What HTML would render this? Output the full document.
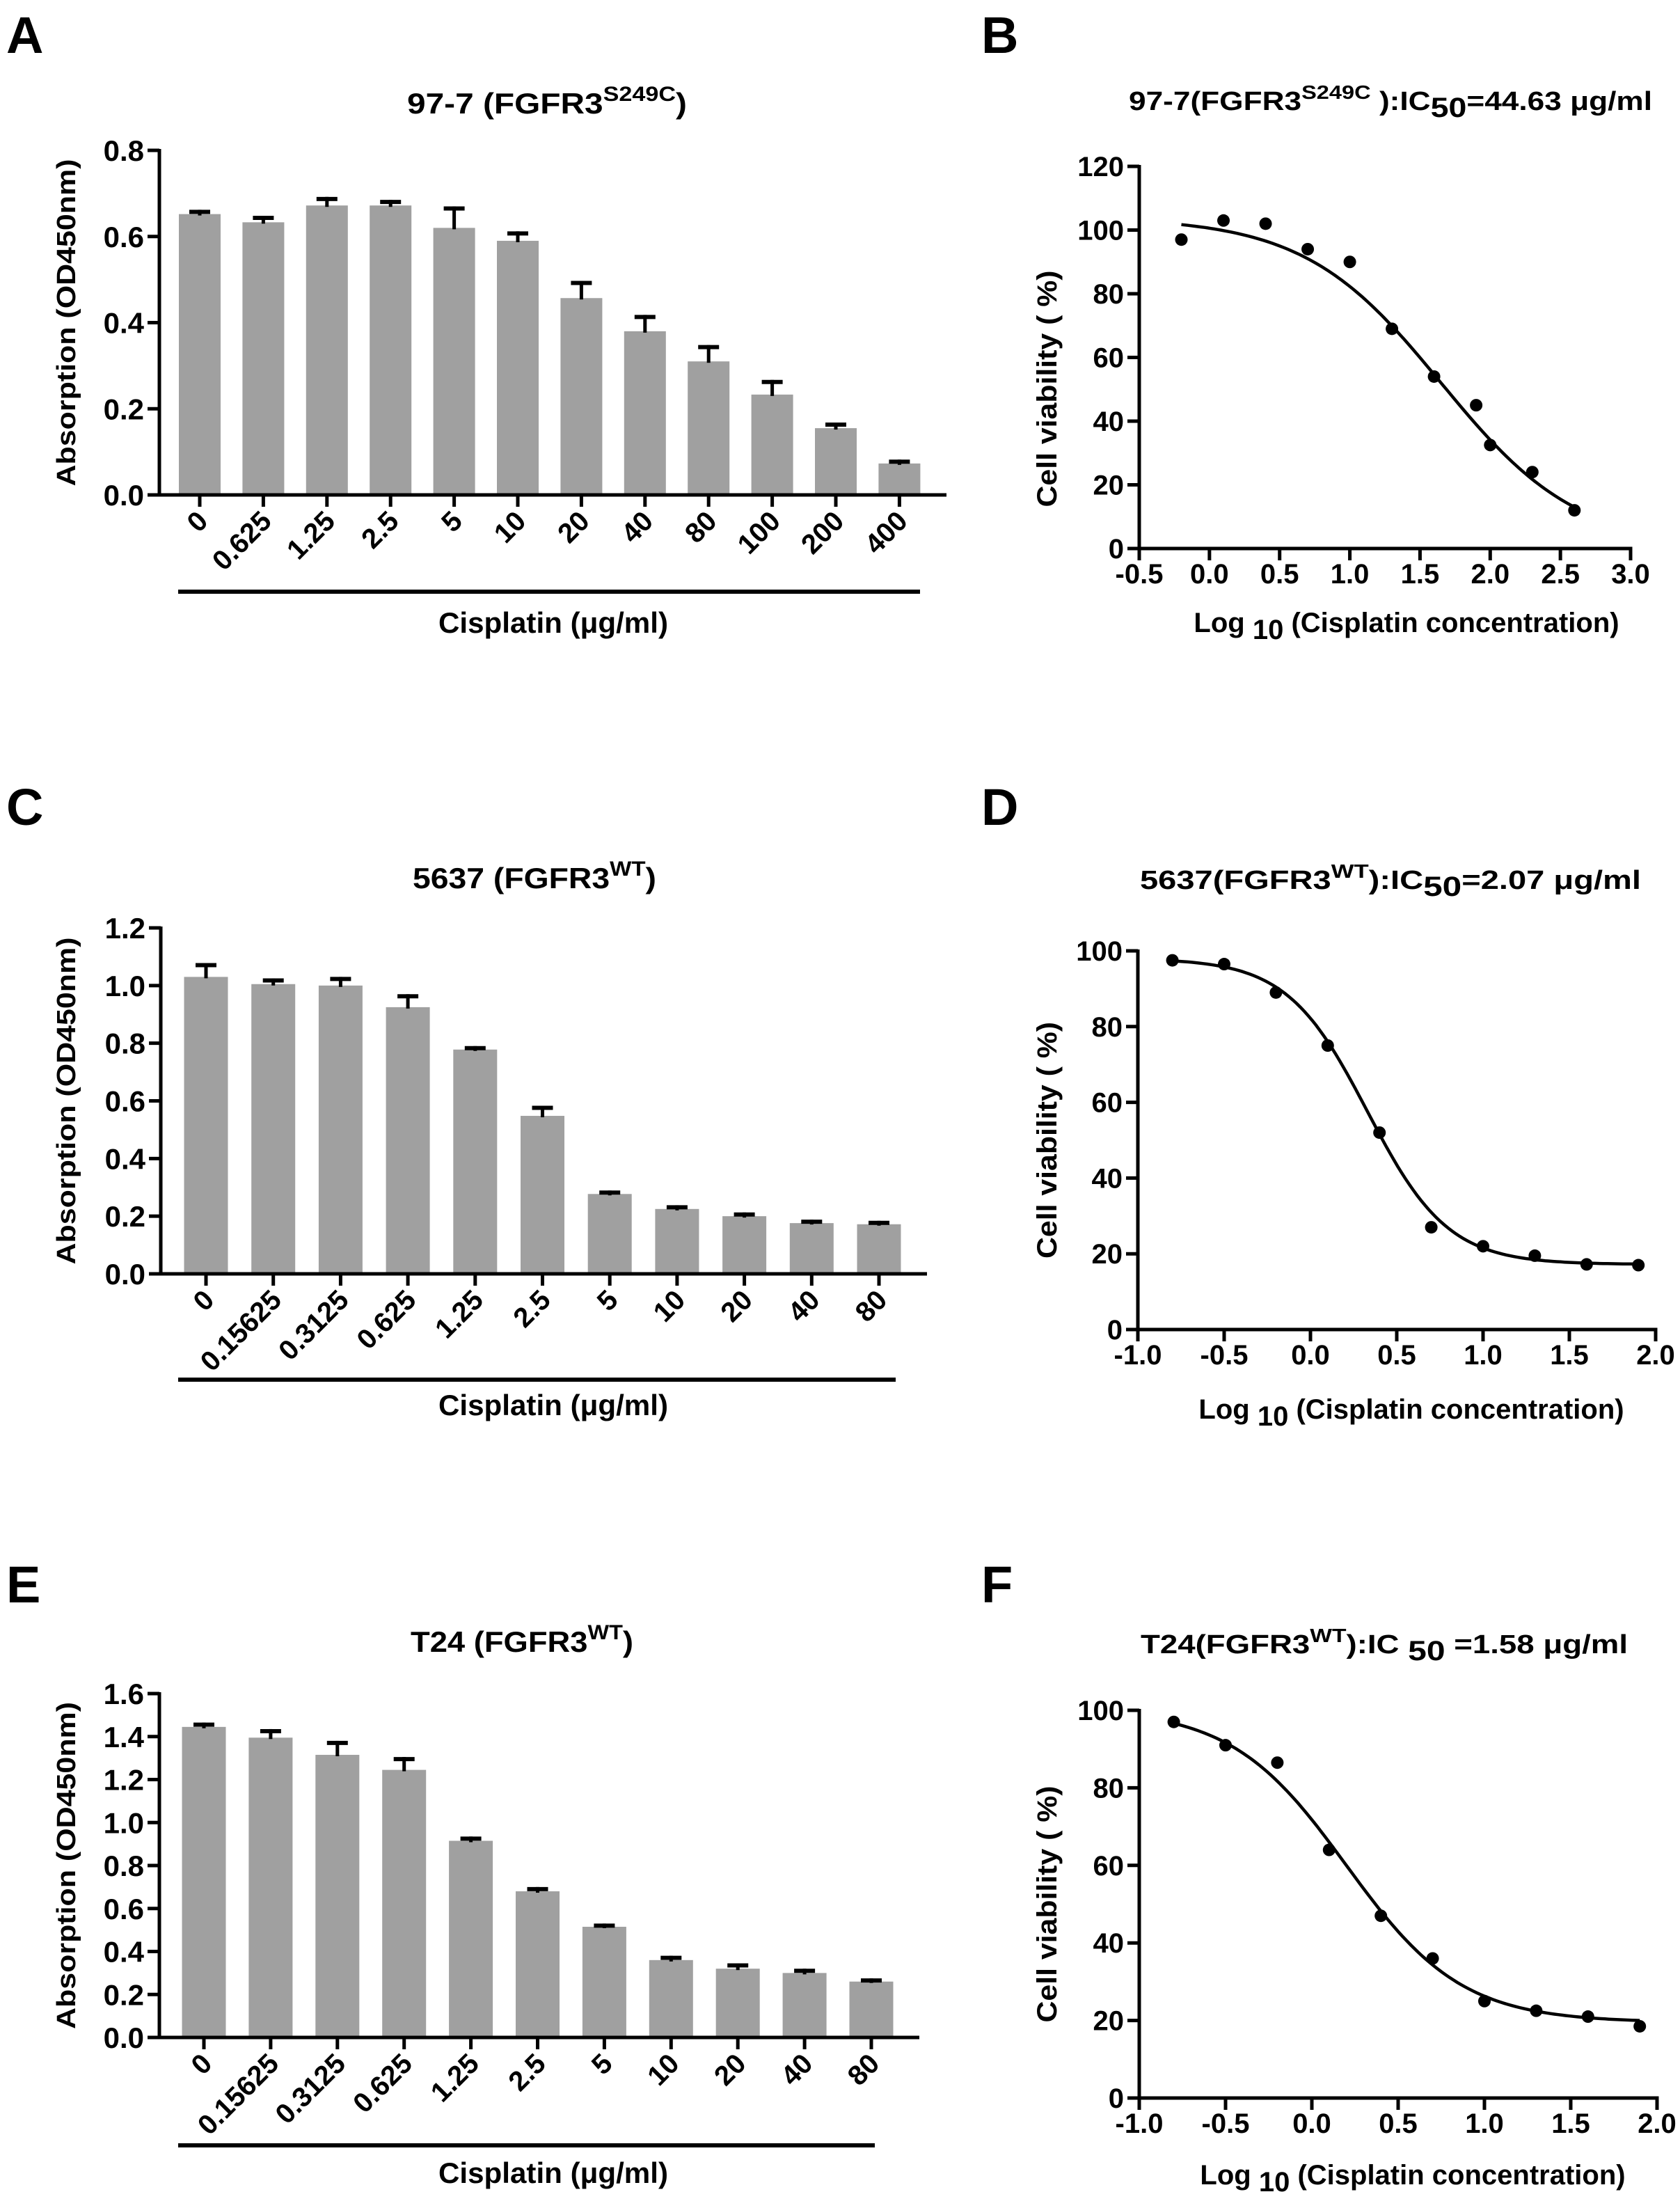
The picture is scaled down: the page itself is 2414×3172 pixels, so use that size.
<!DOCTYPE html>
<html><head><meta charset="utf-8">
<style>
html,body{margin:0;padding:0;background:#fff;}
svg{display:block;}
.n{font-family:"Liberation Sans Narrow","Liberation Sans",sans-serif;font-weight:bold;}
.w{font-family:"Liberation Sans",sans-serif;font-weight:bold;}
</style></head>
<body>
<svg id="fig" xmlns="http://www.w3.org/2000/svg" width="2414" height="3172" viewBox="0 0 2414 3172"></svg>
<script>
// ---------- data ----------
const catsA = ["0","0.625","1.25","2.5","5","10","20","40","80","100","200","400"];
const valsA = [0.652,0.633,0.672,0.672,0.620,0.590,0.457,0.380,0.310,0.233,0.155,0.073];
const errA  = [0.010,0.015,0.020,0.013,0.050,0.022,0.040,0.038,0.038,0.034,0.013,0.009];
const ticksA = ["0.0","0.2","0.4","0.6","0.8"];

const catsC = ["0","0.15625","0.3125","0.625","1.25","2.5","5","10","20","40","80"];
const valsC = [1.030,1.005,1.000,0.925,0.778,0.548,0.277,0.225,0.200,0.176,0.172];
const errC  = [0.048,0.020,0.030,0.045,0.012,0.035,0.012,0.013,0.013,0.012,0.012];
const ticksC = ["0.0","0.2","0.4","0.6","0.8","1.0","1.2"];

const catsE = ["0","0.15625","0.3125","0.625","1.25","2.5","5","10","20","40","80"];
const valsE = [1.445,1.395,1.315,1.245,0.915,0.680,0.515,0.360,0.320,0.300,0.260];
const errE  = [0.020,0.040,0.065,0.060,0.020,0.020,0.015,0.020,0.025,0.020,0.015];
const ticksE = ["0.0","0.2","0.4","0.6","0.8","1.0","1.2","1.4","1.6"];

const logB = [-0.2,0.1,0.4,0.7,1.0,1.3,1.6,1.9,2.0,2.3,2.6];
const viaB = [97,103,102,94,90,69,54,45,32.5,24,12];
const fitB = {top:104, bottom:0, logIC50:1.65, hill:0.89};
const xTicksB = ["-0.5","0.0","0.5","1.0","1.5","2.0","2.5","3.0"];
const yTicksB = ["0","20","40","60","80","100","120"];

const logD = [-0.8,-0.5,-0.2,0.1,0.4,0.7,1.0,1.3,1.6,1.9];
const viaD = [97.5,96.5,89,75,52,27,22,19.5,17.2,17];
const fitD = {top:98, bottom:17.2, logIC50:0.33, hill:1.86};
const xTicksD = ["-1.0","-0.5","0.0","0.5","1.0","1.5","2.0"];
const yTicksD = ["0","20","40","60","80","100"];

const logF = [-0.8,-0.5,-0.2,0.1,0.4,0.7,1.0,1.3,1.6,1.9];
const viaF = [97,91,86.5,64,47,36,25,22.5,21,18.5];
const fitF = {top:100.5, bottom:19.5, logIC50:0.2, hill:1.3};
const xTicksF = ["-1.0","-0.5","0.0","0.5","1.0","1.5","2.0"];
const yTicksF = ["0","20","40","60","80","100"];

// ---------- helpers ----------
const NS = "http://www.w3.org/2000/svg";
const svg = document.getElementById("fig");
function mk(tag, attrs, parent){
  const e = document.createElementNS(NS, tag);
  for (const k in attrs) e.setAttribute(k, attrs[k]);
  (parent||svg).appendChild(e);
  return e;
}
function line(x1,y1,x2,y2,w,p){ return mk("line",{x1,y1,x2,y2,stroke:"#000","stroke-width":w,"stroke-linecap":"butt"},p); }

function letter(ch,x,y){
  const t = mk("text",{x,y,"font-size":74,class:"w",fill:"#000"});
  t.textContent = ch;
  
  
}

function barTitle(g, cx, cy, pre, sup, post, tl){
  const t = mk("text",{x:cx,y:cy+15,"text-anchor":"middle","font-size":42,class:"n",textLength:tl,lengthAdjust:"spacingAndGlyphs"},g);
  
  
  const a = mk("tspan",{},t); a.textContent = pre;
  const b = mk("tspan",{dy:-18,"font-size":30},t); b.textContent = sup;
  const c = mk("tspan",{dy:18},t); c.textContent = post;
}
function curveTitle(g, cx, cy, pre, sup, mid, sub, post, tl){
  const t = mk("text",{x:cx,y:cy+13,"text-anchor":"middle","font-size":38,class:"w",textLength:tl,lengthAdjust:"spacingAndGlyphs"},g);
  
  
  const a = mk("tspan",{},t); a.textContent = pre;
  const b = mk("tspan",{dy:-16,"font-size":28},t); b.textContent = sup;
  const c = mk("tspan",{dy:16},t); c.textContent = mid;
  const d = mk("tspan",{dy:10,"font-size":40},t); d.textContent = sub;
  const e = mk("tspan",{dy:-10},t); e.textContent = post;
}

function barPanel(o, cats, vals, errs, ticks, max, name){
  const g = mk("g",{});
  
  
  const yS = v => o.y0 - (v/max)*(o.y0-o.yTop);
  const xS = i => o.first + i*o.pitch;
  vals.forEach((v,i)=>{
    const r = mk("rect",{x:xS(i)-o.bw/2,y:yS(v),width:o.bw,height:o.y0-yS(v),fill:"#a0a0a0"},g);
    
    
    const top = yS(v+errs[i]);
    const s = line(xS(i),yS(v)+2,xS(i),top,5,g);
    
    
    const c = line(xS(i)-15,top+3,xS(i)+15,top+3,6,g);
    
    
  });
  const ya = line(o.x0,o.yTop-2,o.x0,o.y0+2.5,5,g);
  
  
  const xa = line(o.x0-2.5,o.y0,o.xEnd,o.y0,5,g);
  
  
  ticks.forEach((tl,i)=>{
    const v = parseFloat(tl); const y = yS(v);
    line(o.x0-17,y,o.x0,y,5,g);
    const t = mk("text",{x:o.x0-22,y:y+15,"text-anchor":"end","font-size":42,class:"n"},g);
    t.textContent = tl;
    
    
  });
  cats.forEach((c,i)=>{
    const x = xS(i);
    line(x,o.y0,x,o.y0+17,5,g);
    const t = mk("text",{x:x+14,y:o.y0+40,"text-anchor":"end","font-size":40,class:"n",transform:`rotate(-45 ${x+14} ${o.y0+40})`},g);
    t.textContent = c;
    
    
  });
  const ul = line(o.ul[0],o.ul[2],o.ul[1],o.ul[2],6,g);
  
  
  const xl = mk("text",{x:o.xl[0],y:o.xl[1]+15,"text-anchor":"middle","font-size":42,class:"n",textLength:330,lengthAdjust:"spacingAndGlyphs"},g);
  xl.textContent = "Cisplatin (μg/ml)";
  
  
  const ym = (o.y0+o.yTop)/2;
  const yl = mk("text",{x:o.ylx,y:ym,"text-anchor":"middle","font-size":38,class:"w",textLength:470,lengthAdjust:"spacingAndGlyphs",transform:`rotate(-90 ${o.ylx} ${ym})`},g);
  yl.textContent = "Absorption  (OD450nm)";
  
  
  return g;
}

function curvePanel(o, xs, ys, fit, xt, yt, name){
  const g = mk("g",{});
  
  
  const xmin = parseFloat(xt[0]), xmax = parseFloat(xt[xt.length-1]);
  const ymax = parseFloat(yt[yt.length-1]);
  const xS = v => o.x0 + (v-xmin)/(xmax-xmin)*(o.x1-o.x0);
  const yS = v => o.y0 - v/ymax*(o.y0-o.yTop);
  const ya = line(o.x0,o.yTop-2,o.x0,o.y0+2.5,5,g);
  
  
  const xa = line(o.x0-2.5,o.y0,o.x1+2.5,o.y0,5,g);
  
  
  yt.forEach(tl=>{
    const y = yS(parseFloat(tl));
    line(o.x0-17,y,o.x0,y,5,g);
    const t = mk("text",{x:o.x0-22,y:y+14,"text-anchor":"end","font-size":40,class:"w"},g);
    t.textContent = tl;
    
    
  });
  xt.forEach(tl=>{
    const x = xS(parseFloat(tl));
    line(x,o.y0,x,o.y0+17,5,g);
    const t = mk("text",{x:x,y:o.y0+50,"text-anchor":"middle","font-size":40,class:"w"},g);
    t.textContent = tl;
    
    
  });
  const lo = Math.min(...xs), hi = Math.max(...xs);
  let d = "";
  for (let k=0;k<=120;k++){
    const x = lo + (hi-lo)*k/120;
    const y = fit.bottom + (fit.top-fit.bottom)/(1+Math.pow(10,(x-fit.logIC50)*fit.hill));
    d += (k?"L":"M") + xS(x).toFixed(1) + " " + yS(y).toFixed(1);
  }
  const p = mk("path",{d,fill:"none",stroke:"#000","stroke-width":4.5},g);
  
  
  xs.forEach((x,i)=>{
    const c = mk("circle",{cx:xS(x),cy:yS(ys[i]),r:9,fill:"#000"},g);
    
    
  });
  const xl = mk("text",{x:o.xl[0],y:o.xl[1]+14,"text-anchor":"middle","font-size":40,class:"w"},g);
  
  
  const a = mk("tspan",{},xl); a.textContent = "Log";
  const b = mk("tspan",{dy:10,"font-size":40},xl); b.textContent = " 10";
  const c = mk("tspan",{dy:-10},xl); c.textContent = " (Cisplatin concentration)";
  const ym = (o.y0+o.yTop)/2 + o.yld;
  const yl = mk("text",{x:o.ylx,y:ym,"text-anchor":"middle","font-size":40,class:"n",textLength:340,lengthAdjust:"spacingAndGlyphs",transform:`rotate(-90 ${o.ylx} ${ym})`},g);
  yl.textContent = "Cell viability ( %)";
  
  
  return g;
}

// ---------- panels ----------
letter("A",9,76); letter("B",1410,76);
letter("C",9,1185); letter("D",1410,1185);
letter("E",9,2302); letter("F",1410,2302);

const gA = barPanel({x0:229,xEnd:1360,y0:711,yTop:216,first:287,pitch:91.4,bw:60,ul:[256,1322,850],xl:[795,894],ylx:108},catsA,valsA,errA,ticksA,0.8,"panel-a-bar-chart");
barTitle(gA,786,148,"97-7 (FGFR3","S249C",")",402);
const gC = barPanel({x0:231,xEnd:1332,y0:1830,yTop:1333,first:296,pitch:96.7,bw:63,ul:[256,1287,1982],xl:[795,2018],ylx:108},catsC,valsC,errC,ticksC,1.2,"panel-c-bar-chart");
barTitle(gC,768,1261,"5637 (FGFR3","WT",")",350);
const gE = barPanel({x0:229,xEnd:1321,y0:2927,yTop:2433,first:293,pitch:95.9,bw:63,ul:[256,1257,3082],xl:[795,3121],ylx:108},catsE,valsE,errE,ticksE,1.6,"panel-e-bar-chart");
barTitle(gE,750,2358,"T24 (FGFR3","WT",")",320);

const gB = curvePanel({x0:1637,x1:2343,y0:788,yTop:239,xl:[2021,894],ylx:1518,yld:45},logB,viaB,fitB,xTicksB,yTicksB,"panel-b-dose-response");
curveTitle(gB,1998,145,"97-7(FGFR3","S249C"," ):IC","50","=44.63 μg/ml",752);
const gD = curvePanel({x0:1635,x1:2379,y0:1910,yTop:1366,xl:[2028,2024],ylx:1518,yld:0},logD,viaD,fitD,xTicksD,yTicksD,"panel-d-dose-response");
curveTitle(gD,1998,1264,"5637(FGFR3","WT","):IC","50","=2.07 μg/ml",720);
const gF = curvePanel({x0:1637,x1:2381,y0:3014,yTop:2457,xl:[2030,3124],ylx:1518,yld:0},logF,viaF,fitF,xTicksF,yTicksF,"panel-f-dose-response");
curveTitle(gF,1989,2362,"T24(FGFR3","WT","):IC ","50"," =1.58 μg/ml",700);
</script>
</body></html>
